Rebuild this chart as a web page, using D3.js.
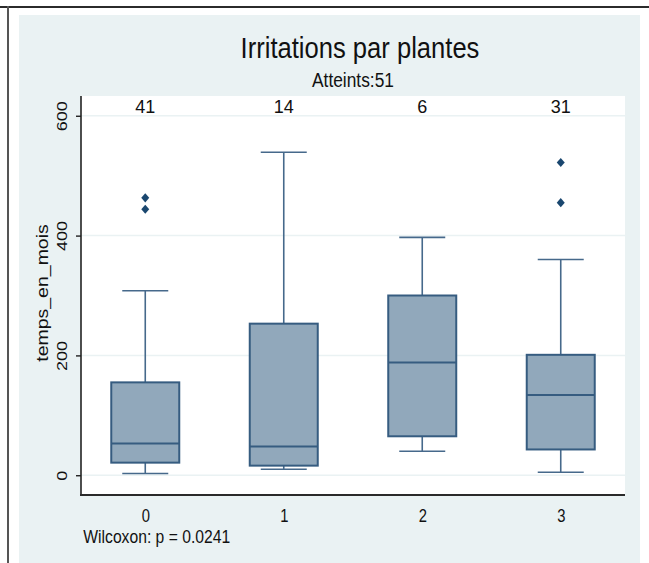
<!DOCTYPE html>
<html>
<head>
<meta charset="utf-8">
<script src="https://cdn.jsdelivr.net/npm/d3@7"></script>
<style>
  html, body { margin: 0; padding: 0; background: #ffffff; }
  svg { display: block; }
  text { font-family: "Liberation Sans", Arial, sans-serif; fill: #111; }
</style>
</head>
<body>
<script>
// Box plot summaries of time (months) by plant-irritation group
const categories   = ["0", "1", "2", "3"];
const counts       = [41, 14, 6, 31];
const lowerWhisker = [3, 10, 40, 5];
const q1           = [21, 16, 65, 43];
const median       = [53, 48, 188, 134];
const q3           = [155, 253, 300, 201];
const upperWhisker = [308, 539, 397, 360];
const outliers     = [[463, 444], [], [], [522, 455]];
const yTicks       = [0, 200, 400, 600];

const titleText    = "Irritations par plantes";
const subtitleText = "Atteints:51";
const yLabel       = "temps_en_mois";
const noteText     = "Wilcoxon: p = 0.0241";

const W = 649, H = 563;
const plot = { left: 81, right: 625, top: 96, bottom: 495 };

const navy = "#1a476f";
const boxFill = "#91a8bb";
const boxStroke = "#365c80";
const lineStroke = "#46698b";
const bgPanel = "#eaf2f3";

const svg = d3.select("body").append("svg")
  .attr("width", W).attr("height", H);

// outer page frame
svg.append("line").attr("x1", 0).attr("x2", W).attr("y1", 7).attr("y2", 7)
  .attr("stroke", "#2b2b2b").attr("stroke-width", 2);
svg.append("line").attr("x1", 8).attr("x2", 8).attr("y1", 6).attr("y2", H)
  .attr("stroke", "#555").attr("stroke-width", 2);

// graph background
svg.append("rect").attr("x", 19).attr("y", 15).attr("width", 640 - 19).attr("height", H - 15)
  .attr("fill", bgPanel);

// plot region
svg.append("rect").attr("x", plot.left).attr("y", plot.top)
  .attr("width", plot.right - plot.left).attr("height", plot.bottom - plot.top)
  .attr("fill", "#ffffff");

const x = d3.scalePoint().domain(categories).range([plot.left, plot.right]).padding(0.464);
const y = d3.scaleLinear().domain([-33, 633]).range([plot.bottom, plot.top]);

// gridlines
svg.append("g").selectAll("line").data(yTicks).join("line")
  .attr("x1", plot.left).attr("x2", plot.right)
  .attr("y1", d => y(d)).attr("y2", d => y(d))
  .attr("stroke", bgPanel).attr("stroke-width", 1.5);

// boxes
const boxW = 68, capW = 46;
const groups = svg.append("g").selectAll("g").data(categories).join("g")
  .attr("transform", d => `translate(${x(d)},0)`);

// whiskers
groups.append("line")
  .attr("x1", 0).attr("x2", 0)
  .attr("y1", (d, i) => y(q3[i])).attr("y2", (d, i) => y(upperWhisker[i]))
  .attr("stroke", lineStroke).attr("stroke-width", 1.6);
groups.append("line")
  .attr("x1", 0).attr("x2", 0)
  .attr("y1", (d, i) => y(q1[i])).attr("y2", (d, i) => y(lowerWhisker[i]))
  .attr("stroke", lineStroke).attr("stroke-width", 1.6);
groups.append("line")
  .attr("x1", -capW / 2).attr("x2", capW / 2)
  .attr("y1", (d, i) => y(upperWhisker[i])).attr("y2", (d, i) => y(upperWhisker[i]))
  .attr("stroke", lineStroke).attr("stroke-width", 1.6);
groups.append("line")
  .attr("x1", -capW / 2).attr("x2", capW / 2)
  .attr("y1", (d, i) => y(lowerWhisker[i])).attr("y2", (d, i) => y(lowerWhisker[i]))
  .attr("stroke", lineStroke).attr("stroke-width", 1.6);

// interquartile box and median
groups.append("rect")
  .attr("x", -boxW / 2).attr("width", boxW)
  .attr("y", (d, i) => y(q3[i])).attr("height", (d, i) => y(q1[i]) - y(q3[i]))
  .attr("fill", boxFill).attr("stroke", boxStroke).attr("stroke-width", 2);
groups.append("line")
  .attr("x1", -boxW / 2).attr("x2", boxW / 2)
  .attr("y1", (d, i) => y(median[i])).attr("y2", (d, i) => y(median[i]))
  .attr("stroke", boxStroke).attr("stroke-width", 2);

// outside values
const diamond = "M0,-4.6L4,0L0,4.6L-4,0Z";
groups.each(function (d, i) {
  d3.select(this).selectAll("path.out").data(outliers[i]).join("path")
    .attr("class", "out")
    .attr("d", diamond)
    .attr("transform", v => `translate(0,${y(v)})`)
    .attr("fill", navy);
});

// group counts above each box
svg.append("g").selectAll("text").data(categories).join("text")
  .attr("x", d => x(d)).attr("y", 113.3)
  .attr("text-anchor", "middle")
  .style("font-size", "18px")
  .text((d, i) => counts[i]);

// y axis
const yAxis = svg.append("g")
  .attr("transform", `translate(${plot.left},0)`)
  .call(d3.axisLeft(y).tickValues(yTicks).tickSize(5).tickSizeOuter(0));
yAxis.select(".domain").attr("d", `M0,${plot.top}V${plot.bottom}`)
  .attr("stroke", "#222").attr("stroke-width", 1.6);
yAxis.selectAll(".tick line").attr("stroke", "#222").attr("stroke-width", 1.4);
yAxis.selectAll(".tick text")
  .attr("x", null).attr("dy", null).attr("y", null)
  .attr("transform", "translate(-14,0) scale(0.8,1) rotate(-90)")
  .attr("text-anchor", "middle")
  .style("font-size", "18px").style("font-family", "Liberation Sans, Arial, sans-serif")
  .attr("fill", "#111");

// x axis
const xAxis = svg.append("g")
  .attr("transform", `translate(0,${plot.bottom})`)
  .call(d3.axisBottom(x).tickSize(0).tickSizeOuter(0));
xAxis.select(".domain").attr("d", `M${plot.left - 1},0H${plot.right}`)
  .attr("stroke", "#2a2a2a").attr("stroke-width", 2.2);
xAxis.selectAll(".tick text")
  .attr("y", null).attr("dy", null)
  .attr("transform", "translate(0,26.7) scale(0.8,1)")
  .attr("text-anchor", "middle")
  .style("font-size", "18.5px").style("font-family", "Liberation Sans, Arial, sans-serif")
  .attr("fill", "#111");

// y axis title
svg.append("text")
  .attr("transform", "translate(48.4,293) scale(0.8,1) rotate(-90)")
  .attr("text-anchor", "middle")
  .style("font-size", "19.5px")
  .text(yLabel);

// horizontally fitted text helper
function fitText(str, cx, baseline, size, width, anchor) {
  const t = svg.append("text")
    .attr("text-anchor", anchor)
    .style("font-size", size + "px")
    .text(str);
  const w = t.node().getComputedTextLength();
  t.attr("transform", `translate(${cx},${baseline}) scale(${width / w},1)`);
  return t;
}

fitText(titleText, 360, 57.7, 29, 239, "middle");
fitText(subtitleText, 353, 86.7, 21, 82, "middle");
fitText(noteText, 83.3, 543.3, 19, 147, "start");
</script>
</body>
</html>
